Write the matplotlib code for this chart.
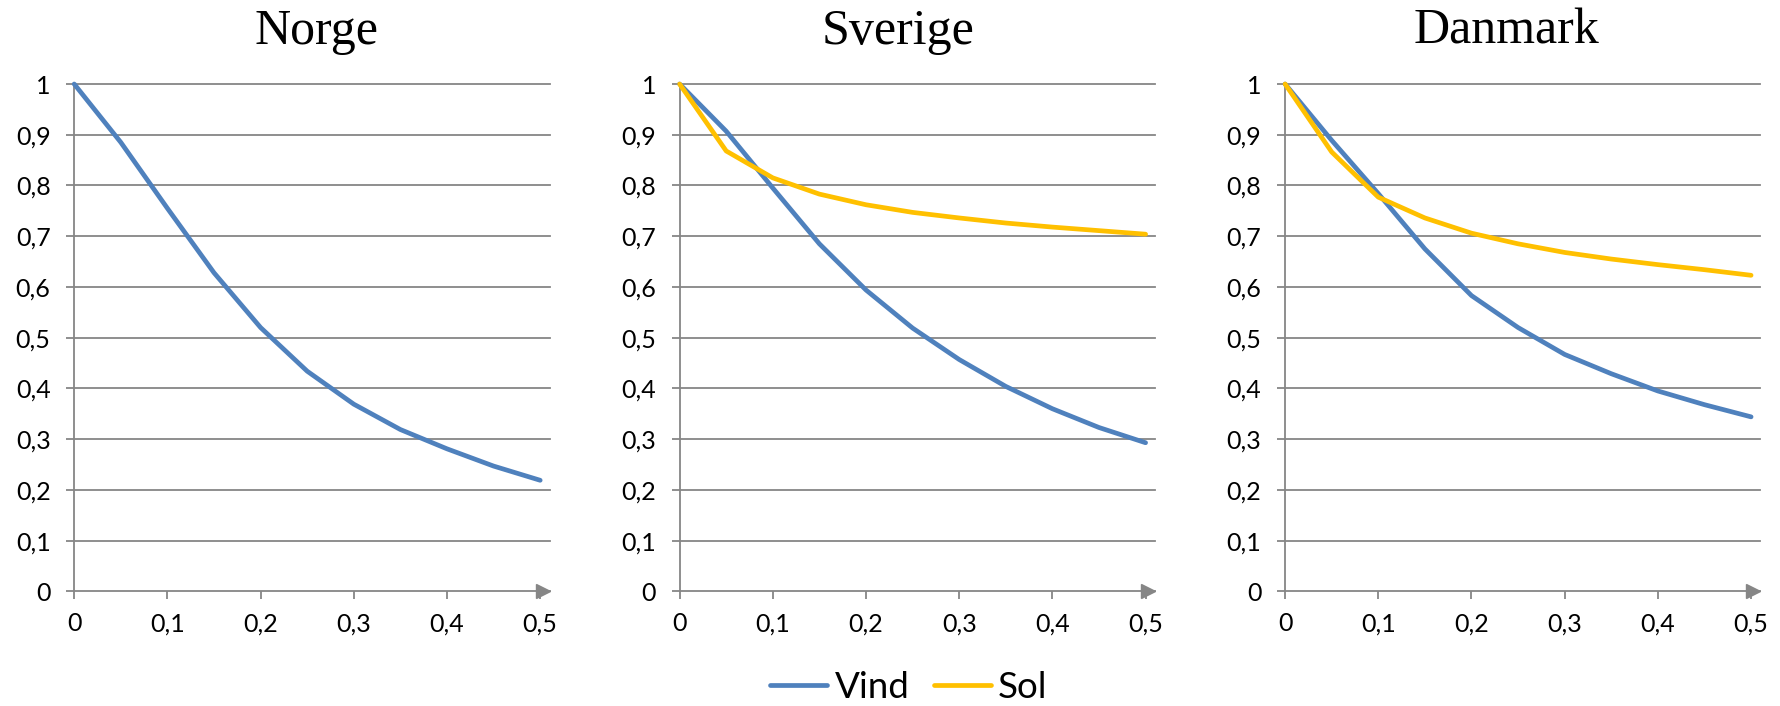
import matplotlib
matplotlib.use("Agg")
import matplotlib.pyplot as plt
import matplotlib.transforms as mtransforms
from matplotlib.lines import Line2D

plt.rcParams['font.family'] = ['Lato', 'DejaVu Sans']

# ---- data ----
countries = ["Norge", "Sverige", "Danmark"]
x_vals = [0, 0.05, 0.1, 0.15, 0.2, 0.25, 0.3, 0.35, 0.4, 0.45, 0.5]
norge_vind = [1, 0.885, 0.755, 0.628, 0.52, 0.434, 0.369, 0.319, 0.281, 0.247, 0.219]
sverige_vind = [1, 0.907, 0.795, 0.685, 0.594, 0.519, 0.457, 0.404, 0.360, 0.323, 0.293]
sverige_sol = [1, 0.868, 0.815, 0.783, 0.762, 0.747, 0.736, 0.726, 0.718, 0.711, 0.704]
danmark_vind = [1, 0.889, 0.784, 0.675, 0.583, 0.520, 0.467, 0.429, 0.395, 0.368, 0.344]
danmark_sol = [1, 0.866, 0.777, 0.736, 0.706, 0.685, 0.668, 0.655, 0.644, 0.634, 0.623]
x_ticks = [0, 0.1, 0.2, 0.3, 0.4, 0.5]
x_ticklabels = ["0", "0,1", "0,2", "0,3", "0,4", "0,5"]
y_ticks = [0, 0.1, 0.2, 0.3, 0.4, 0.5, 0.6, 0.7, 0.8, 0.9, 1.0]
y_ticklabels = ["0", "0,1", "0,2", "0,3", "0,4", "0,5", "0,6", "0,7", "0,8", "0,9", "1"]
series_names = ["Vind", "Sol"]
vind_data = [norge_vind, sverige_vind, danmark_vind]
sol_data = [None, sverige_sol, danmark_sol]

# ---- style ----
BLUE = "#4F81BD"
YELLOW = "#FFC000"
GRAY = "#868686"

W, H = 1780, 706
fig = plt.figure(figsize=(W / 100, H / 100), dpi=100)

axes_left_px = [74.2, 679.6, 1285.1]
ax_w_px = 475.3
y_top_px, y_bot_px = 84.0, 591.4
title_x_px = [317, 898, 1506]

for i, name in enumerate(countries):
    ax = fig.add_axes([axes_left_px[i] / W, 1 - y_bot_px / H,
                       ax_w_px / W, (y_bot_px - y_top_px) / H])
    ax.set_xlim(0, 0.51)
    ax.set_ylim(0, 1)
    for s in ["top", "right"]:
        ax.spines[s].set_visible(False)
    for s in ["left", "bottom"]:
        ax.spines[s].set_color(GRAY)
        ax.spines[s].set_linewidth(1.3)
    ax.set_xticks(x_ticks)
    ax.set_xticklabels(x_ticklabels)
    ax.set_yticks(y_ticks)
    ax.set_yticklabels(y_ticklabels)
    ax.tick_params(axis="both", direction="out", length=6, width=1.3,
                   color=GRAY, labelsize=18, labelcolor="black")
    ax.tick_params(axis="y", pad=11)
    ax.tick_params(axis="x", pad=9)
    for yv in y_ticks[1:]:
        ax.axhline(yv, color=GRAY, lw=1.3, clip_on=False, zorder=1)
    # arrow head on x axis
    tr = mtransforms.offset_copy(ax.get_yaxis_transform(), fig=fig, x=-5, y=0, units="points")
    ax.plot([1], [0], marker=">", ms=10, color=GRAY, transform=tr, clip_on=False, zorder=3)

    ax.plot(x_vals, vind_data[i], color=BLUE, lw=3.4, clip_on=False,
            solid_capstyle="round", solid_joinstyle="round", zorder=4)
    if sol_data[i] is not None:
        ax.plot(x_vals, sol_data[i], color=YELLOW, lw=3.4, clip_on=False,
                solid_capstyle="round", solid_joinstyle="round", zorder=5)

    fig.text(title_x_px[i] / W, 1 - 44 / H, name, ha="center", va="baseline",
             fontsize=36, family=["Liberation Serif", "DejaVu Serif"])

handles = [Line2D([], [], color=BLUE, lw=3.4, solid_capstyle="round"),
           Line2D([], [], color=YELLOW, lw=3.4, solid_capstyle="round")]
fig.legend(handles, series_names, loc="center", bbox_to_anchor=(909 / W, 1 - 687 / H),
           ncol=2, frameon=False, fontsize=26.5, handlelength=1.55,
           handletextpad=0.2, columnspacing=0.65)

fig.savefig("out.png", dpi=100)
